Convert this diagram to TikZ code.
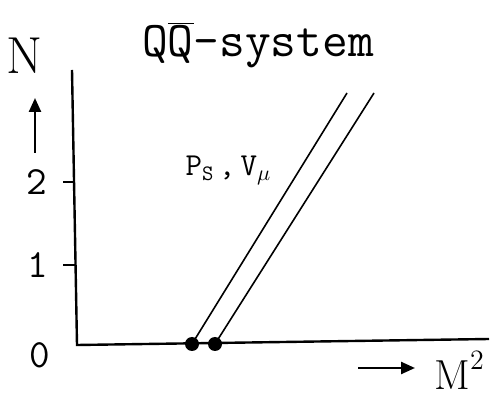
\documentclass[tikz,border=0pt]{standalone}
\usetikzlibrary{arrows.meta,positioning}

\begin{document}
\begin{tikzpicture}[x=0.5pt,y=0.5pt, every node/.style={inner sep=0pt}, axis/.style={line width=1.2pt}, traj/.style={line width=0.8pt}, tick/.style={font=\ttfamily\fontsize{20}{20}\selectfont}, dot/.style={circle,fill=black,minimum size=7pt}, >={Triangle[length=7pt,width=6pt]}]
\useasboundingbox (0,0) rectangle (502,406);
\node[font=\ttfamily\fontsize{25}{25}\selectfont] (title) at (258,361) {Q$\overline{\hbox{Q}}$-system};
\coordinate (o) at (77,61);\coordinate (ytop) at (72,336);\coordinate (xend) at (489,67);
\draw[axis] (ytop)--(o)--(xend);
\node[tick] (l2) at (37,224) {2};\node[tick] (l1) at (38,141) {1};\node[tick] (l0) at (40,51) {0};
\coordinate (k2) at (63,224);\coordinate (k2e) at (74,224);\coordinate (k1) at (63,141);\coordinate (k1e) at (75,141);
\draw[axis] (k2)--(k2e);\draw[axis] (k1)--(k1e);
\node[font=\fontsize{26}{26}\selectfont] (n) at (25,350) {N};
\coordinate (na) at (35,253);\coordinate (nb) at (35,308);\draw[axis,->] (na)--(nb);
\node[font=\fontsize{21}{21}\selectfont] (m) at (459,36) {M\raisebox{1.1ex}{\fontsize{14}{14}\selectfont 2}};
\coordinate (ma) at (358,38);\coordinate (mb) at (415,38);\draw[axis,->] (ma)--(mb);
\node[dot] (d1) at (192,62) {};\node[dot] (d2) at (215,62) {};
\coordinate (t1) at (347,313);\coordinate (t2) at (374,313);
\draw[traj] (d1.center)--(t1);\draw[traj] (d2.center)--(t2);
\node[font=\ttfamily\fontsize{16}{16}\selectfont] (ps) at (228,236) {P\raisebox{-0.35ex}{\fontsize{11}{11}\selectfont S}\,,\,V\raisebox{-0.35ex}{\fontsize{11}{11}\selectfont$\mu$}};
\end{tikzpicture}
\end{document}
